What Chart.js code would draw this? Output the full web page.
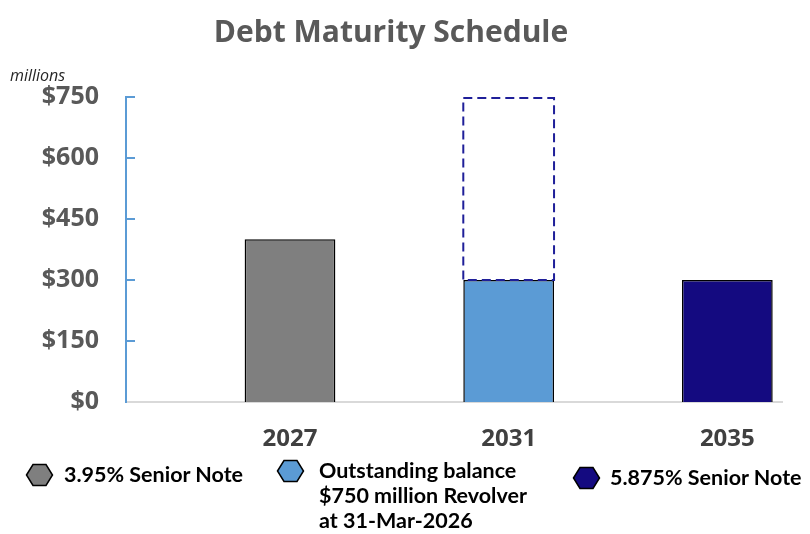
<!DOCTYPE html>
<html>
<head>
<meta charset="utf-8">
<script src="https://cdn.jsdelivr.net/npm/chart.js@4"></script>
<style>
  html, body { margin: 0; padding: 0; background: #fff; }
  #wrap { position: relative; width: 810px; height: 534px; }
  #units { position: absolute; left: 10px; top: 64px; font: italic 16px "Open Sans", sans-serif; color: #262626; }
  .leg { position: absolute; display: flex; align-items: flex-start; font: bold 21.5px Lato, sans-serif; color: #000; line-height: 25px; }
  .leg svg { margin-top: 1px; flex: none; }
</style>
</head>
<body>
<div id="wrap">
  <canvas id="grafico" width="810" height="534"></canvas>
  <div id="units">millions</div>
  <div id="leyenda"></div>
</div>
<script>
// datos
const anios = ["2027", "2031", "2035"];
const notaSenior395 = [400, 0, 0];
const saldoRevolver = [0, 300, 0];
const notaSenior5875 = [0, 0, 300];
const revolverTotal = [0, 750, 0];   // linea punteada
const yTicks = [0, 150, 300, 450, 600, 750];

const nombres = ["3.95% Senior Note", "Outstanding balance\n$750 million Revolver\nat 31-Mar-2026", "5.875% Senior Note"];
const colores = ["#7f7f7f", "#5b9bd5", "#140a80"];

const puntos = arr => arr.map((v, i) => ({ x: i + 1, y: v }));
const disponible = revolverTotal.map((v, i) => v ? v - saldoRevolver[i] : 0);

// borde punteado del revolver
const punteado = {
  id: "punteado",
  afterDatasetsDraw(chart) {
    let meta = chart.getDatasetMeta(3);
    let ctx = chart.ctx;
    meta.data.forEach((bar, i) => {
      if (!disponible[i]) return;
      let base = chart.scales.y.getPixelForValue(saldoRevolver[i]);
      ctx.save();
      ctx.strokeStyle = "#1f1f99";
      ctx.lineWidth = 2;
      ctx.setLineDash([9, 5]);
      ctx.strokeRect(bar.x - bar.width / 2, bar.y + 1, bar.width, base - bar.y - 1);
      ctx.restore();
    });
  }
};

// marcas del eje y hacia adentro
const marcasY = {
  id: "marcasY",
  afterDraw(chart) {
    let y = chart.scales.y, ctx = chart.ctx;
    ctx.save();
    ctx.strokeStyle = "#5b9bd5";
    ctx.lineWidth = 2;
    yTicks.slice(1).forEach(v => {
      let py = Math.round(y.getPixelForValue(v));
      ctx.beginPath();
      ctx.moveTo(y.right, py);
      ctx.lineTo(y.right + 9, py);
      ctx.stroke();
    });
    ctx.restore();
  }
};

const barra = (label, data, color) => ({
  label, data: puntos(data), backgroundColor: color,
  borderColor: "#000", borderWidth: 1.5,
  barPercentage: 0.415, categoryPercentage: 1
});

new Chart(document.getElementById("grafico"), {
  type: "bar",
  data: {
    datasets: [
      barra(nombres[0], notaSenior395, colores[0]),
      barra(nombres[1], saldoRevolver, colores[1]),
      barra(nombres[2], notaSenior5875, colores[2]),
      { label: "revolver", data: puntos(disponible), backgroundColor: "rgba(0,0,0,0)", borderWidth: 0,
        barPercentage: 0.415, categoryPercentage: 1 }
    ]
  },
  options: {
    responsive: false,
    animation: false,
    layout: { padding: { top: 0, right: 28, bottom: 72, left: 0 } },
    plugins: {
      legend: { display: false },
      tooltip: { enabled: false },
      title: {
        display: true,
        text: "Debt Maturity Schedule",
        color: "#595959",
        font: { family: "Open Sans", size: 30, weight: "bold" },
        padding: { top: 15, bottom: 46 }
      }
    },
    scales: {
      x: {
        type: "linear", stacked: true, offset: false,
        min: 0.25, max: 3.25,
        afterBuildTicks: s => { s.ticks = anios.map((a, i) => ({ value: i + 1 })); },
        afterFit: s => { s.height = 60; },
        grid: { display: false },
        border: { color: "#d9d9d9", width: 2 },
        ticks: {
          callback: v => anios[v - 1],
          color: "#404040", padding: 15,
          font: { family: "Open Sans", size: 24, weight: "bold" }
        }
      },
      y: {
        stacked: true, min: 0, max: 750,
        afterBuildTicks: s => { s.ticks = yTicks.map(v => ({ value: v })); },
        afterFit: s => { s.width = 126; },
        grid: { display: false, tickLength: 0 },
        border: { color: "#5b9bd5", width: 2 },
        ticks: {
          callback: v => "$" + v,
          color: "#595959", padding: 27,
          font: { family: "Open Sans", size: 25, weight: "bold" }
        }
      }
    }
  },
  plugins: [punteado, marcasY]
});

// leyenda
const posLeyenda = [[25, 462, 10], [276, 458, 14], [572, 465, 9]];
let leyenda = document.getElementById("leyenda");
nombres.forEach((n, i) => {
  let d = document.createElement("div");
  d.className = "leg";
  d.style.left = posLeyenda[i][0] + "px";
  d.style.top = posLeyenda[i][1] + "px";
  d.innerHTML = `<svg width="29" height="24" viewBox="0 0 29 24" style="margin-right:${posLeyenda[i][2]}px"><polygon points="1.5,12 8,1.5 21,1.5 27.5,12 21,22.5 8,22.5" fill="${colores[i]}" stroke="#000" stroke-width="1.5"/></svg>`;
  let t = document.createElement("span");
  t.style.whiteSpace = "pre";
  t.textContent = n;
  d.appendChild(t);
  leyenda.appendChild(d);
});
</script>
</body>
</html>
